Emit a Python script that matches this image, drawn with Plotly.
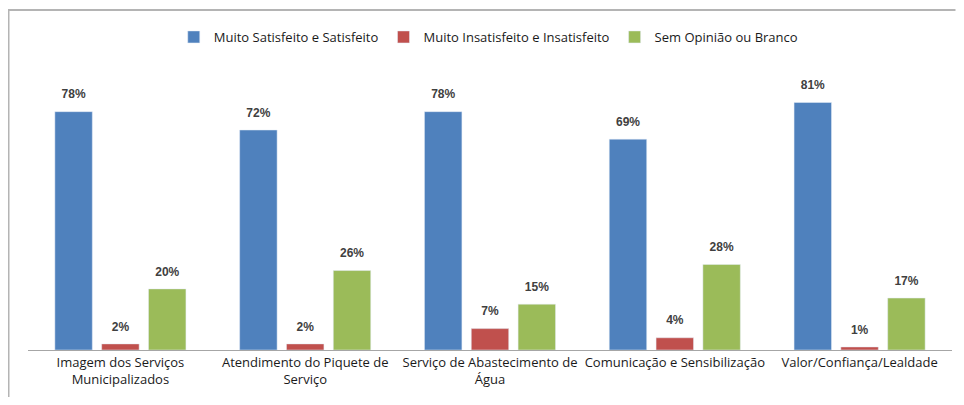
import plotly.graph_objects as go

categories = [
    "Imagem dos Serviços<br>Municipalizados",
    "Atendimento do Piquete de<br>Serviço",
    "Serviço de Abastecimento de<br>Água",
    "Comunicação e Sensibilização",
    "Valor/Confiança/Lealdade",
]
series_names = [
    "Muito Satisfeito e Satisfeito",
    "Muito Insatisfeito e Insatisfeito",
    "Sem Opinião ou Branco",
]
satisfeito = [78, 72, 78, 69, 81]
insatisfeito = [2, 2, 7, 4, 1]
sem_opiniao = [20, 26, 15, 28, 17]
colors = ["#4F81BD", "#C0504D", "#9BBB59"]

# page body has an 8px default margin; keep figure inside the window (no scrollbars)
W, H = 948, 389
L, R, T, B = 20, 3.5, 67, 47
pw, ph = W - L - R, H - T - B

def px(x):
    return (x - L) / pw

def py(y):
    return (H - B - y) / ph

fig = go.Figure()
all_vals = [satisfeito, insatisfeito, sem_opiniao]
for name, vals, col in zip(series_names, all_vals, colors):
    fig.add_trace(go.Bar(x=categories, y=vals, name=name, marker_color=col,
                         hoverinfo="x+y+name"))
for name, vals in zip(series_names, all_vals):
    fig.add_trace(go.Scatter(
        x=categories, y=vals, mode="markers+text", showlegend=False, name=name,
        text=[f"<b>{v}%</b>" for v in vals], textposition="top center",
        marker=dict(size=15, color="rgba(0,0,0,0)"), cliponaxis=False, hoverinfo="skip",
        textfont=dict(family="Liberation Sans", size=12, color="#404040"),
    ))

fig.update_layout(
    width=W, height=H,
    margin=dict(l=L, r=R, t=T, b=B, autoexpand=False),
    paper_bgcolor="white", plot_bgcolor="white",
    barmode="group", bargap=0.24, bargroupgap=0.2,
    scattermode="group", scattergap=0.24,
    font=dict(family="Open Sans", color="#1a1a1a"),
    legend=dict(orientation="h", x=px(481), xanchor="center", y=py(29), yanchor="middle",
                font=dict(family="Open Sans", size=13, color="#1a1a1a"),
                itemwidth=30, traceorder="normal"),
    xaxis=dict(showline=True, linecolor="#a6a6a6", linewidth=1, ticks="", automargin=False,
               tickfont=dict(family="Open Sans", size=13, color="#1a1a1a"), showgrid=False),
    yaxis=dict(range=[0, 90], visible=False, showgrid=False, automargin=False),
    shapes=[
        dict(type="line", xref="paper", yref="paper", x0=px(0), x1=px(W), y0=py(2), y1=py(2),
             line=dict(color="#b4b4b4", width=2)),
        dict(type="line", xref="paper", yref="paper", x0=px(0.5), x1=px(0.5), y0=py(1), y1=py(H),
             line=dict(color="#b4b4b4", width=2)),
    ],
)

fig.write_html("out.html")
